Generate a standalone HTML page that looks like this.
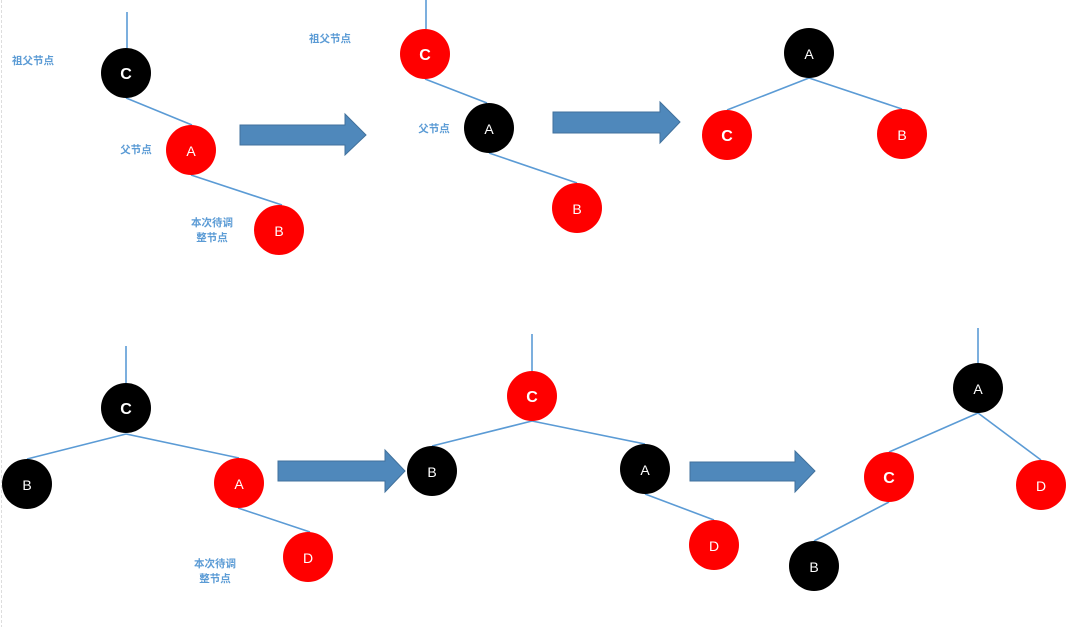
<!DOCTYPE html>
<html><head><meta charset="utf-8"><style>
html,body{margin:0;padding:0;background:#fff;width:1081px;height:627px;overflow:hidden}
svg text{font-family:"Liberation Sans","Noto Sans CJK SC",sans-serif}
</style></head><body>
<svg width="1081" height="627" viewBox="0 0 1081 627" xmlns="http://www.w3.org/2000/svg">
<line x1="1.5" y1="0" x2="1.5" y2="627" stroke="#ddd" stroke-dasharray="3,2"/>
<g stroke="#5b9bd5" stroke-width="1.6" fill="none">
<line x1="127" y1="12" x2="127" y2="48"/><line x1="126" y1="98" x2="192" y2="125"/><line x1="191" y1="175" x2="282" y2="205"/>
<line x1="426" y1="0" x2="426" y2="29"/><line x1="425" y1="79" x2="487" y2="103"/><line x1="489" y1="153" x2="577" y2="183"/>
<line x1="809" y1="78" x2="727" y2="110"/><line x1="809" y1="78" x2="902" y2="109"/>
<line x1="126" y1="346" x2="126" y2="383"/><line x1="126" y1="434" x2="27" y2="459"/><line x1="126" y1="434" x2="239" y2="458"/><line x1="238" y1="508" x2="310" y2="532"/>
<line x1="532" y1="334" x2="532" y2="371"/><line x1="532" y1="421" x2="432" y2="446"/><line x1="532" y1="421" x2="645" y2="444"/><line x1="645" y1="494" x2="714" y2="520"/>
<line x1="978" y1="328" x2="978" y2="363"/><line x1="978" y1="413" x2="889" y2="452"/><line x1="978" y1="413" x2="1041" y2="460"/><line x1="889" y1="502" x2="814" y2="541"/>
</g>
<g fill="#4f88bb" stroke="#41719c" stroke-width="1">
<polygon points="240,125 345,125 345,114 366,135 345,155 345,145 240,145"/>
<polygon points="553,112 660,112 660,102 680,122 660,143 660,133 553,133"/>
<polygon points="278,461 385,461 385,450 405,471 385,492 385,481 278,481"/>
<polygon points="690,462 795,462 795,451 815,471 795,492 795,481 690,481"/>
</g>
<g font-size="14" text-anchor="middle" fill="#fff">
<circle cx="126" cy="73" r="25" fill="#000"/><text x="126" y="79" font-weight="bold" font-size="16">C</text>
<circle cx="191" cy="150" r="25" fill="#f00"/><text x="191" y="156">A</text>
<circle cx="279" cy="230" r="25" fill="#f00"/><text x="279" y="236">B</text>
<circle cx="425" cy="54" r="25" fill="#f00"/><text x="425" y="60" font-weight="bold" font-size="16">C</text>
<circle cx="489" cy="128" r="25" fill="#000"/><text x="489" y="134">A</text>
<circle cx="577" cy="208" r="25" fill="#f00"/><text x="577" y="214">B</text>
<circle cx="809" cy="53" r="25" fill="#000"/><text x="809" y="59">A</text>
<circle cx="727" cy="135" r="25" fill="#f00"/><text x="727" y="141" font-weight="bold" font-size="16">C</text>
<circle cx="902" cy="134" r="25" fill="#f00"/><text x="902" y="140">B</text>
<circle cx="126" cy="408" r="25" fill="#000"/><text x="126" y="414" font-weight="bold" font-size="16">C</text>
<circle cx="27" cy="484" r="25" fill="#000"/><text x="27" y="490">B</text>
<circle cx="239" cy="483" r="25" fill="#f00"/><text x="239" y="489">A</text>
<circle cx="308" cy="557" r="25" fill="#f00"/><text x="308" y="563">D</text>
<circle cx="532" cy="396" r="25" fill="#f00"/><text x="532" y="402" font-weight="bold" font-size="16">C</text>
<circle cx="432" cy="471" r="25" fill="#000"/><text x="432" y="477">B</text>
<circle cx="645" cy="469" r="25" fill="#000"/><text x="645" y="475">A</text>
<circle cx="714" cy="545" r="25" fill="#f00"/><text x="714" y="551">D</text>
<circle cx="978" cy="388" r="25" fill="#000"/><text x="978" y="394">A</text>
<circle cx="889" cy="477" r="25" fill="#f00"/><text x="889" y="483" font-weight="bold" font-size="16">C</text>
<circle cx="1041" cy="485" r="25" fill="#f00"/><text x="1041" y="491">D</text>
<circle cx="814" cy="566" r="25" fill="#000"/><text x="814" y="572">B</text>
</g>
<g font-size="10.5" font-weight="bold" fill="#5b9bd5" text-anchor="middle">
<text x="33" y="64">祖父节点</text>
<text x="136" y="153">父节点</text>
<text x="212" y="226">本次待调</text>
<text x="212" y="241">整节点</text>
<text x="330" y="42">祖父节点</text>
<text x="434" y="132">父节点</text>
<text x="215" y="567">本次待调</text>
<text x="215" y="582">整节点</text>
</g>
</svg>
</body></html>
